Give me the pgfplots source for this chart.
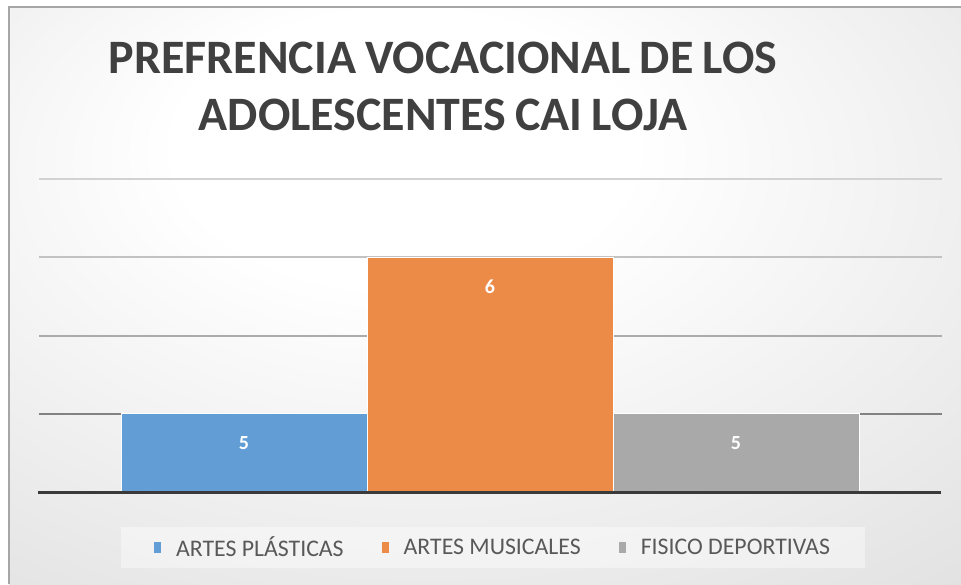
\documentclass[border=0pt]{standalone}
\usepackage{pgfplots}
\pgfplotsset{compat=1.18}
\usepackage{fontspec}
\setmainfont{Carlito}
\definecolor{cblue}{HTML}{639DD6}
\definecolor{corange}{HTML}{EC8A48}
\definecolor{cgray}{HTML}{A9A9A9}
\definecolor{titlegray}{HTML}{404040}
\definecolor{leggray}{HTML}{595959}
\definecolor{gA}{HTML}{D2D2D2}
\definecolor{gB}{HTML}{C2C2C2}
\definecolor{gC}{HTML}{ABABAB}
\definecolor{gD}{HTML}{828282}
\definecolor{base}{HTML}{3A3A3A}
\pgfdeclareradialshading{bgshade}{\pgfpoint{-5bp}{15bp}}{color(0bp)=(white); color(12bp)=(white); color(60bp)=(black!18); color(80bp)=(black!20)}
\newcommand{\tsp}{\spaceskip=0.19em plus 0.05em\relax}
\begin{document}
\begin{tikzpicture}[x=1pt,y=1pt]
\useasboundingbox (0,0) rectangle (961,584);
\fill[white] (0,0) rectangle (961,584);
\shade[shading=bgshade] (9,0) rectangle (961,577);
\draw[black!35, line width=1.2pt] (9,0) -- (9,577) -- (961,577);
% title
\node[anchor=base, font=\bfseries\fontsize{48}{57}\selectfont, text=titlegray, inner sep=0pt] at (443,510) {\tsp PREFRENCIA VOCACIONAL DE LOS};
\node[anchor=base, font=\bfseries\fontsize{48}{57}\selectfont, text=titlegray, inner sep=0pt] at (443,453) {\tsp ADOLESCENTES CAI LOJA};
% gridlines
\draw[gA, line width=2pt] (39,405) -- (942,405);
\draw[gB, line width=2pt] (39,327) -- (942,327);
\draw[gC, line width=2pt] (39,248) -- (942,248);
\draw[gD, line width=2pt] (39,170) -- (942,170);
\begin{axis}[
  at={(38pt,92pt)}, anchor=south west,
  scale only axis, width=903pt, height=313pt,
  xmin=-1.837, xmax=1.833, ymin=4.5, ymax=6.5,
  axis x line*=bottom, axis y line=none,
  x axis line style={-, line width=3pt, color=base},
  axis on top,
  xtick=\empty, ytick=\empty,
  ybar, bar width=1,
  every axis plot/.append style={draw=white, line width=0.8pt},
  /pgf/number format/assume math mode=true,
  nodes near coords={\textbf{\pgfmathprintnumber{\pgfplotspointmeta}}},
  every node near coord/.append style={font=\bfseries\fontsize{20}{24}\selectfont, text=white, anchor=center, yshift=-29pt},
  legend columns=3,
  legend style={at={(0.5017,0)}, anchor=north, yshift=-35pt, xshift=2pt,
    draw=none, fill=white, fill opacity=0.4, text opacity=1,
    font=\fontsize{23.8}{28}\selectfont, text=leggray,
    inner xsep=33pt, inner ysep=7.5pt,
    /tikz/every even column/.append style={column sep=36pt},
    /tikz/every odd column/.append style={column sep=13pt}},
  legend image code/.code={\fill[#1, draw=none, fill opacity=1] (0pt,-5.5pt) rectangle (7pt,5.5pt);},
]
\addplot[fill=cblue, bar shift=-1] coordinates {(0,5)};
\addlegendentry{ARTES PLÁSTICAS}
\addplot[fill=corange, bar shift=0] coordinates {(0,6)};
\addlegendentry{ARTES MUSICALES}
\addplot[fill=cgray, bar shift=1] coordinates {(0,5)};
\addlegendentry{FISICO DEPORTIVAS}
\end{axis}
\end{tikzpicture}
\end{document}
